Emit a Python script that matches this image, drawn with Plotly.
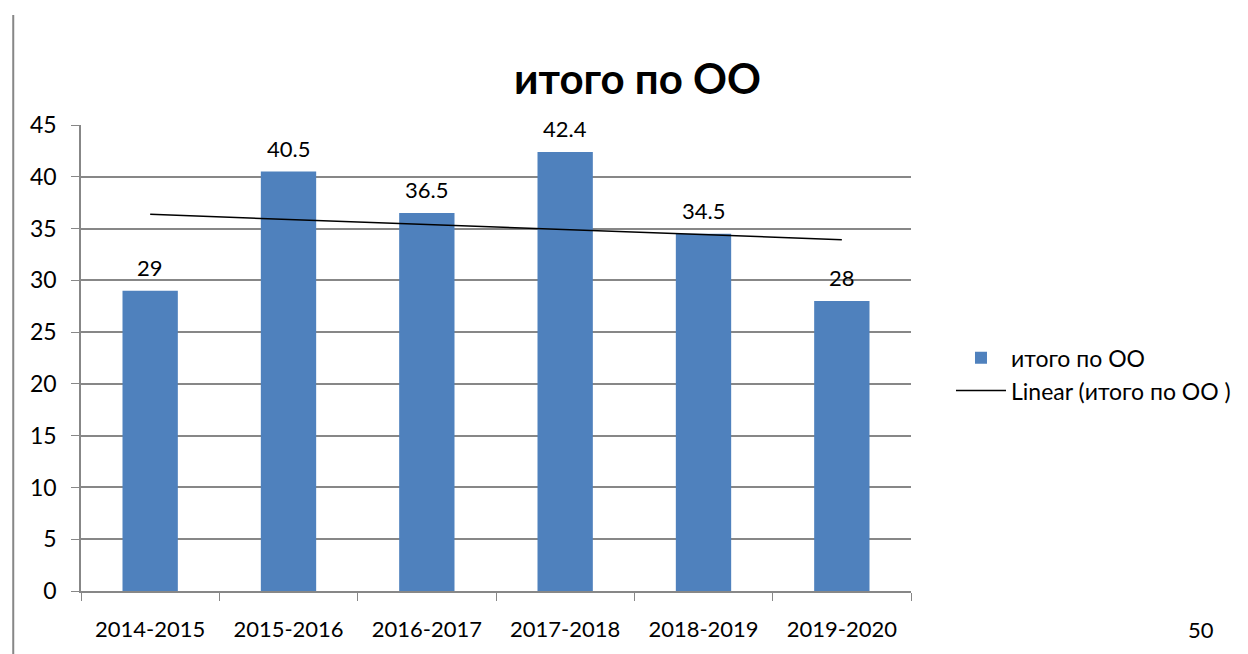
import numpy as np
import plotly.graph_objects as go

categories = ["2014-2015", "2015-2016", "2016-2017", "2017-2018", "2018-2019", "2019-2020"]
values = [29, 40.5, 36.5, 42.4, 34.5, 28]
labels = ["29", "40.5", "36.5", "42.4", "34.5", "28"]
y_ticks = [0, 5, 10, 15, 20, 25, 30, 35, 40, 45]

# linear trend (least squares)
xi = np.arange(1, len(values) + 1)
k, b = np.polyfit(xi, values, 1)
trend = k * xi + b

FONT = "Lato"
GRAY = "#878787"
SX = 1.008  # small horizontal correction

W, H = 1248, 654
L, T = round(80 * SX), 125
R = W - round(918 * SX)
B = H - 595
pw, ph = W - L - R, H - T - B


def px(xp):
    return (xp * SX - L) / pw


def py(yp):
    return (H - B - yp) / ph


fig = go.Figure()
fig.add_trace(go.Bar(
    x=categories, y=values, name="итого по ОО",
    marker=dict(color="#4F81BD", line=dict(width=0)),
))
fig.add_trace(go.Scatter(
    x=categories, y=trend, mode="lines", name="Linear (итого по ОО )",
    line=dict(color="#000000", width=1.5),
))

annotations = [
    dict(text=t, x=c, y=v, xref="x", yref="y", yanchor="bottom", yshift=8,
         showarrow=False, font=dict(family=FONT, size=22, color="#000000"))
    for c, v, t in zip(categories, values, labels)
]
annotations += [
    dict(text="<b>итого по ОО</b>", xref="paper", yref="paper",
         x=px(642), y=py(78), xanchor="center", yanchor="middle",
         showarrow=False, font=dict(family=FONT, size=42, color="#000000")),
    dict(text="50", xref="paper", yref="paper",
         x=px(1210), y=py(634), xanchor="center", yanchor="middle",
         showarrow=False, font=dict(family=FONT, size=22, color="#000000")),
]

fig.update_layout(
    width=W, height=H,
    margin=dict(l=L, r=R, t=T, b=B),
    paper_bgcolor="white", plot_bgcolor="white",
    font=dict(family=FONT, size=20, color="#000000"),
    bargap=0.6,
    showlegend=True,
    legend=dict(x=px(958), y=py(338), xanchor="left", yanchor="top",
                font=dict(family=FONT, size=23), itemwidth=50,
                bgcolor="rgba(0,0,0,0)"),
    xaxis=dict(type="category", tickson="boundaries", ticks="outside", ticklen=8,
               tickcolor=GRAY, showline=True, linecolor=GRAY, linewidth=1.5,
               showgrid=False, tickfont=dict(family=FONT, size=22),
               ticklabelstandoff=18),
    yaxis=dict(range=[0, 45], tickvals=y_ticks, ticks="outside", ticklen=8,
               tickcolor=GRAY, showline=True, linecolor=GRAY, linewidth=1.5,
               showgrid=True, gridcolor=GRAY, gridwidth=1.5, zeroline=False,
               tickfont=dict(family=FONT, size=23), ticklabelstandoff=10),
    annotations=annotations,
    shapes=[
        dict(type="line", xref="paper", yref="paper",
             x0=px(12), x1=px(12), y0=py(14), y1=py(660),
             line=dict(color=GRAY, width=2)),
    ],
)

fig.write_html(
    "out.html",
    config={"displayModeBar": False},
    post_script="document.body.style.margin='0';document.body.style.overflow='hidden';",
)
